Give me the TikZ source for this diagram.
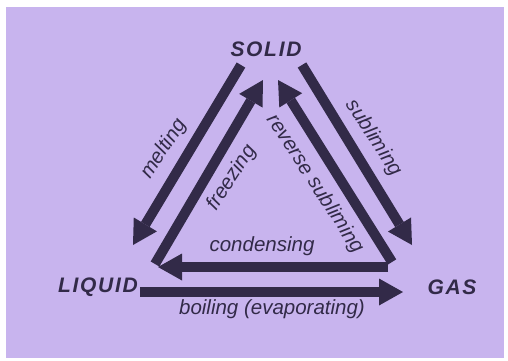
\documentclass[tikz,border=0pt]{standalone}
\usepackage{fontspec}
\setmainfont{Liberation Sans}
\usetikzlibrary{arrows.meta}
\definecolor{bg}{RGB}{200,180,238}
\definecolor{ink}{RGB}{50,42,72}
\begin{document}
\begin{tikzpicture}[x=1pt,y=-1pt,
  lab/.style={font=\fontsize{20.5}{22}\selectfont\itshape, text=ink, inner sep=0pt},
  state/.style={font=\fontsize{21}{23}\selectfont\bfseries\itshape\addfontfeatures{LetterSpace=8}, text=ink, inner sep=0pt},
  flow/.style={draw=ink, line width=10pt, -{Triangle[length=24pt,width=27pt,line width=0pt]}}]
\useasboundingbox (0,0) rectangle (508,360);
\fill[white] (0,0) rectangle (508,360);
\fill[bg] (6,7) rectangle (504,358);

\node[state] (solid) at (266,49) {SOLID};
\node[state] (liquid) at (98,287) {LIQUID};
\node[state] (gas) at (452,287) {GAS};

\coordinate (m1) at (241,65);  \coordinate (m2) at (133,245);
\coordinate (f1) at (155,264); \coordinate (f2) at (263,80);
\coordinate (r1) at (392,262); \coordinate (r2) at (278,80);
\coordinate (s1) at (302,65);  \coordinate (s2) at (412,245);
\coordinate (c1) at (388,267); \coordinate (c2) at (158,267);
\coordinate (b1) at (140,292); \coordinate (b2) at (403,292);

\draw[flow] (m1) -- (m2);
\draw[flow] (f1) -- (f2);
\draw[flow] (r1) -- (r2);
\draw[flow] (s1) -- (s2);
\draw[flow] (c1) -- (c2);
\draw[flow] (b1) -- (b2);

\node[lab, rotate=57] (melt) at (164,149) {melting};
\node[lab, rotate=57] (freeze) at (232,178) {freezing};
\node[lab, rotate=-57] (revsub) at (315,184) {reverse subliming};
\node[lab, rotate=-57] (sub) at (374,138) {subliming};
\node[lab] (cond) at (262,246) {condensing};
\node[lab] (boil) at (272,309) {boiling (evaporating)};
\end{tikzpicture}
\end{document}
